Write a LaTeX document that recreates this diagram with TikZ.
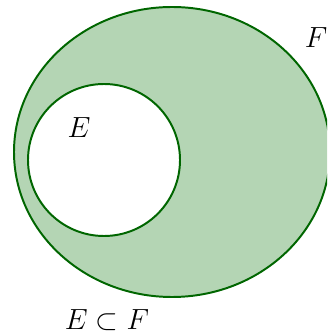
\documentclass[tikz,border=0pt]{standalone}
\usepackage{tikz}
\usetikzlibrary{positioning,calc}
\definecolor{setline}{RGB}{0,102,0}
\definecolor{setfill}{RGB}{180,213,180}

\begin{document}
\begin{tikzpicture}[x=0.025cm, y=-0.025cm,
  menge/.style={draw=setline, line width=1.4pt},
  lbl/.style={font=\fontsize{21}{24}\selectfont, inner sep=0pt}]
\useasboundingbox (0,0) rectangle (327,333);
\clip (0,0) rectangle (327,333);
\coordinate (cF) at (172,152);
\coordinate (cE) at (104,160);
\draw[menge, fill=setfill] (cF) ellipse [x radius=158, y radius=145];
\draw[menge, fill=white] (cE) circle [radius=76];
\node[lbl] (nF) at (316,38) {$F$};
\node[lbl] (nE) at (79,128) {$E$};
\node[lbl] (sub) at (107,320) {$E \subset F$};
\end{tikzpicture}
\end{document}
